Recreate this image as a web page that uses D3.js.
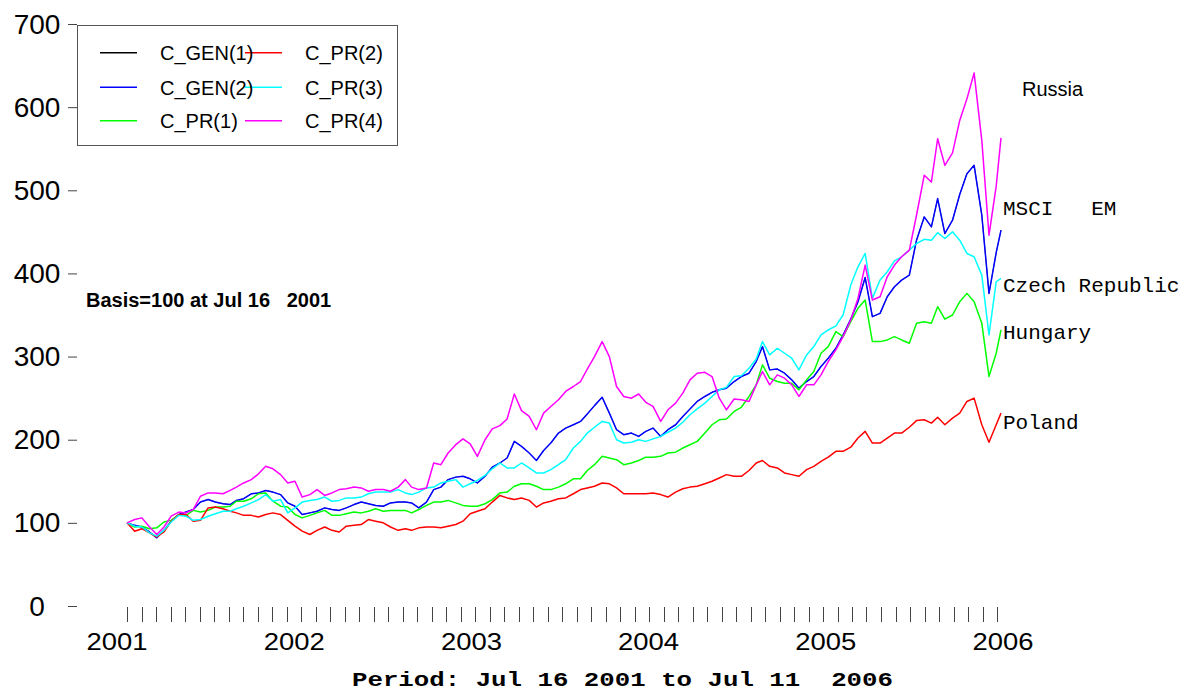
<!DOCTYPE html>
<html>
<head>
<meta charset="utf-8">
<script src="https://cdn.jsdelivr.net/npm/d3@7"></script>
<style>
  body { margin: 0; background: #fff; }
  svg { display: block; }
</style>
</head>
<body>
<svg id="chart" width="1194" height="691"></svg>
<script>
// Index levels (basis = 100 at Jul 16 2001), sampled on the 16th and 1st of each month
const russia = [
  100,104,106,95,86,95,108,113,112,116,132,136,136,135,139,143,148,152,159,168,
  165,158,148,150,131,134,140,133,136,140,141,143,142,138,140,140,138,143,152,143,
  140,142,172,170,184,194,201,195,180,200,213,217,225,255,235,228,212,232,240,248,
  258,264,270,285,300,318,300,264,252,250,255,245,240,222,236,244,256,272,280,281,
  276,250,236,249,248,246,266,282,266,278,274,266,252,266,266,278,294,308,324,344,
  370,410,368,372,396,410,420,428,470,518,510,562,530,545,584,610,641,560,446,505,563
];
const msciEm = [
  100,97,95,89,82,91,102,110,113,116,125,128,125,123,122,127,129,135,136,139,
  137,134,124,120,110,112,114,118,116,115,118,122,125,123,121,120,124,125,125,124,
  118,125,140,143,152,155,156,153,148,156,167,172,178,198,192,184,175,187,196,208,
  214,218,222,231,241,251,232,212,206,208,204,210,214,204,212,218,228,237,246,252,
  257,260,262,270,276,280,294,312,284,285,280,272,262,270,276,288,298,310,326,345,
  366,395,348,352,372,384,392,398,440,468,456,490,448,464,495,520,530,470,376,425,452
];
const czech = [
  100,96,95,88,84,91,101,109,108,103,104,108,111,114,114,117,120,124,128,134,
  126,128,112,118,125,127,128,131,126,127,130,130,131,135,137,137,137,140,136,134,
  137,142,143,148,150,152,143,147,151,157,165,172,166,166,172,166,160,160,164,170,
  176,190,198,208,215,222,220,200,196,197,200,198,201,204,209,214,221,230,237,244,
  252,260,263,276,277,286,297,318,302,310,304,298,284,302,312,326,332,337,350,386,
  408,424,370,392,402,415,420,428,436,441,440,449,442,450,440,424,420,398,326,390,394
];
const hungary = [
  100,95,96,93,94,101,103,110,109,115,113,115,119,119,120,126,126,129,135,136,
  126,120,119,110,106,109,112,115,109,109,111,113,112,114,117,114,115,115,115,112,
  116,121,125,125,127,124,121,120,120,123,128,136,137,144,147,147,144,140,140,143,
  147,153,153,163,170,180,178,176,170,172,175,179,179,180,184,185,190,194,198,208,
  218,224,225,234,239,252,266,290,274,270,268,268,260,272,282,304,312,330,324,342,
  358,368,318,318,320,324,320,316,340,342,340,360,345,350,366,376,366,340,276,304,332
];
const poland = [
  100,90,93,88,83,89,102,110,110,102,103,118,119,117,114,112,109,109,107,110,
  112,110,103,96,90,86,91,95,91,89,96,97,98,104,102,100,95,91,93,91,
  94,95,95,94,96,98,102,111,114,117,125,133,130,128,130,127,119,124,126,129,
  130,135,140,142,144,148,147,142,135,135,135,135,136,134,131,137,141,143,144,147,
  150,154,158,156,156,163,172,175,168,166,160,158,156,164,168,174,179,186,186,191,
  202,210,196,196,202,208,208,215,223,224,220,227,218,226,232,246,250,218,197,218,232
];
// C_GEN(1) runs underneath C_GEN(2) and is fully covered by it
const cGen1 = msciEm;

const seriesNames = ["C_GEN(1)", "C_GEN(2)", "C_PR(1)", "C_PR(2)", "C_PR(3)", "C_PR(4)"];
const seriesColors = ["#000000", "#0000ff", "#00ff00", "#ff0000", "#00ffff", "#ff00ff"];
const seriesValues = [cGen1, msciEm, hungary, poland, czech, russia];

const yTickValues = [0, 100, 200, 300, 400, 500, 600, 700];
const yearLabels = ["2001", "2002", "2003", "2004", "2005", "2006"];
const monthTickCount = 61;

const marketNames = ["Russia", "MSCI   EM", "Czech Republic", "Hungary", "Poland"];
const marketLevels = [622, 479, 386, 330, 221];
const marketFonts = ["sans", "mono", "mono", "mono", "mono"];

const basisNote = "Basis=100 at Jul 16   2001";
const periodTitle = "Period: Jul 16 2001 to Jul 11  2006";

// observation dates: Jul 16 2001, then the 1st and 16th of every month, then Jul 11 2006
const startDate = new Date(2001, 6, 16);
const endDate = new Date(2006, 6, 11);
const dates = d3.range(120).map(k => new Date(2001, 6 + Math.ceil(k / 2), k % 2 === 0 ? 16 : 1));
dates.push(endDate);

const SANS = "Arial, 'Liberation Sans', sans-serif";
const MONO = "'Courier New', 'Liberation Mono', monospace";

const svg = d3.select("#chart");

const x = d3.scaleTime().domain([startDate, endDate]).range([127, 1001]);
const y = d3.scaleLinear().domain([0, 700]).range([606, 24]);
const monthX = d3.scaleLinear().domain([0, monthTickCount - 1]).range([127, 997]);
const yearX = d3.scalePoint().domain(yearLabels).range([117, 1003]);

// y axis: short ticks and labels, no axis line
const yAxis = svg.append("g");
yAxis.selectAll("line").data(yTickValues).join("line")
  .attr("x1", 68).attr("x2", 77)
  .attr("y1", d => y(d) + 0.5).attr("y2", d => y(d) + 0.5)
  .attr("stroke", "#444").attr("stroke-width", 1);
yAxis.selectAll("text").data(yTickValues).join("text")
  .attr("x", 37).attr("y", d => y(d))
  .attr("text-anchor", "middle").attr("dominant-baseline", "central")
  .attr("font-family", SANS).attr("font-size", 28)
  .text(d => d);

// x axis: monthly ticks and year labels
const xAxis = svg.append("g");
xAxis.selectAll("line").data(d3.range(monthTickCount)).join("line")
  .attr("x1", d => Math.round(monthX(d)) + 0.5).attr("x2", d => Math.round(monthX(d)) + 0.5)
  .attr("y1", 607).attr("y2", 622)
  .attr("stroke", "#444").attr("stroke-width", 1);
xAxis.selectAll("text").data(yearLabels).join("text")
  .attr("x", d => yearX(d)).attr("y", 650)
  .attr("text-anchor", "middle")
  .attr("font-family", SANS).attr("font-size", 24)
  .attr("textLength", 61).attr("lengthAdjust", "spacingAndGlyphs")
  .text(d => d);

// index lines (the hidden C_GEN(1) line is kept thinner so C_GEN(2) covers it)
const line = d3.line()
  .x((d, i) => x(dates[i]))
  .y(d => y(d));
svg.append("g").selectAll("path").data(seriesValues).join("path")
  .attr("d", d => line(d))
  .attr("fill", "none")
  .attr("stroke", (d, i) => seriesColors[i])
  .attr("stroke-width", (d, i) => i === 0 ? 0.6 : 1.5)
  .attr("stroke-linejoin", "round");

// legend
const legend = svg.append("g");
legend.append("rect")
  .attr("x", 77.5).attr("y", 25.5).attr("width", 320).attr("height", 120)
  .attr("fill", "none").attr("stroke", "#555").attr("stroke-width", 1);
const rowY = [52.7, 87.3, 120.7];
const colX = [100, 245];
seriesNames.forEach((name, i) => {
  const col = Math.floor(i / 3), row = i % 3;
  legend.append("line")
    .attr("x1", colX[col]).attr("x2", colX[col] + 37)
    .attr("y1", rowY[row]).attr("y2", rowY[row])
    .attr("stroke", seriesColors[i]).attr("stroke-width", 1.4);
});
seriesNames.forEach((name, i) => {
  const col = Math.floor(i / 3), row = i % 3;
  legend.append("text")
    .attr("x", colX[col] + 60).attr("y", rowY[row] + 7.3)
    .attr("font-family", SANS).attr("font-size", 20)
    .text(name);
});

// market labels at the right edge
svg.append("g").selectAll("text").data(marketNames).join("text")
  .attr("x", (d, i) => marketFonts[i] === "sans" ? 1022 : 1003)
  .attr("y", (d, i) => y(marketLevels[i]) + 7)
  .attr("font-family", (d, i) => marketFonts[i] === "sans" ? SANS : MONO)
  .attr("font-size", (d, i) => marketFonts[i] === "sans" ? 20 : 21)
  .style("white-space", "pre")
  .text(d => d);

// basis note
svg.append("text")
  .attr("x", 86).attr("y", 306.5)
  .attr("font-family", SANS).attr("font-size", 20).attr("font-weight", "bold")
  .style("white-space", "pre")
  .text(basisNote);

// period title
svg.append("text")
  .attr("x", 352).attr("y", 686)
  .attr("font-family", MONO).attr("font-size", 21).attr("font-weight", "bold")
  .attr("textLength", 541).attr("lengthAdjust", "spacingAndGlyphs")
  .style("white-space", "pre")
  .text(periodTitle);
</script>
</body>
</html>
